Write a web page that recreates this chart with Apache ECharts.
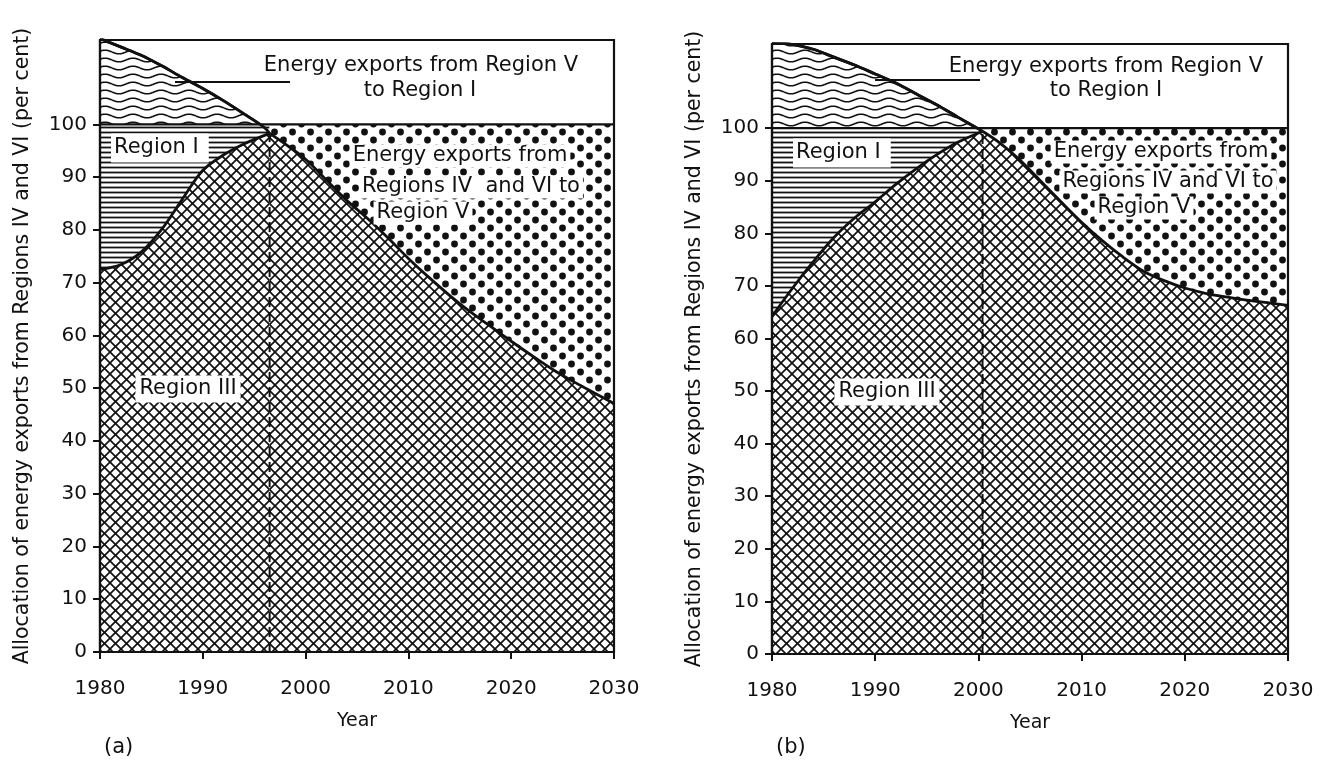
<!DOCTYPE html>
<html><head><meta charset="utf-8">
<script src="https://cdn.jsdelivr.net/npm/echarts@6/dist/echarts.min.js"></script>
<style>html,body{margin:0;padding:0;background:#fff}#c{width:1321px;height:766px}</style>
</head><body><div id="c"></div>
<script>
// ---------------- data ----------------
const yTicks = [0,10,20,30,40,50,60,70,80,90,100];
const xTicks = [1980,1990,2000,2010,2020,2030];

// Panel (a)
const aSplitYear = 1996.5;
const aTopYears = [1980,1982,1984,1986,1988,1990,1992,1994,1996,1996.5];
const aTopVals  = [116.3,114.7,113.1,111.1,108.9,106.8,104.5,102.0,99.4,98.3];
const aRiseYears = [1980,1982,1984,1986,1988,1990,1992,1994,1996.5];
const aRiseVals  = [72.5,73.4,75.8,80.1,85.8,91.3,94.2,96.3,98.3];
const aFallYears = [1996.5,1998,2000,2002,2004,2006,2008,2010,2012,2014,2016,2018,2020,2022,2024,2026,2028,2030];
const aFallVals  = [98.3,96.3,93.4,89.5,85.6,82.2,78.5,74.6,71.0,67.6,64.5,61.7,58.9,56.2,53.6,51.3,49.2,47.1];

// Panel (b)
const bSplitYear = 2000.4;
const bTopYears = [1980,1982,1984,1986,1988,1990,1992,1994,1996,1998,2000.4];
const bTopVals  = [116.4,115.9,115.0,113.5,112.0,110.3,108.6,106.5,104.4,102.1,99.4];
const bRiseYears = [1980,1982,1984,1986,1988,1990,1992,1994,1996,1998,2000.4];
const bRiseVals  = [64.2,69.6,74.6,79.2,82.9,86.0,89.3,92.3,95.0,97.3,99.4];
const bFallYears = [2000.4,2002,2004,2006,2008,2010,2012,2014,2016,2018,2020,2022,2024,2026,2028,2030];
const bFallVals  = [99.4,97.3,94.0,90.0,86.0,82.1,78.6,75.5,72.8,71.0,69.6,68.6,67.9,67.3,66.8,66.3];

const FULL_LINE = 100;
const yTitle = 'Allocation of energy exports from Regions IV and VI (per cent)';

// ---------------- patterns ----------------
const INK = '#111';
const FONT = '"DejaVu Sans", "Liberation Sans", sans-serif';
function mk(w, h, draw) {
  const c = document.createElement('canvas'); c.width = w; c.height = h;
  const g = c.getContext('2d'); g.fillStyle = '#fff'; g.fillRect(0, 0, w, h);
  g.strokeStyle = INK; g.fillStyle = INK; draw(g, w, h); return c;
}
const crossPat = mk(11, 11, (g, s) => {
  g.lineWidth = 1.7;
  for (const dx of [-s, 0, s]) {
    g.beginPath(); g.moveTo(dx - 1, -1); g.lineTo(dx + s + 1, s + 1); g.stroke();
    g.beginPath(); g.moveTo(dx + s + 1, -1); g.lineTo(dx - 1, s + 1); g.stroke();
  }
});
const hPat = mk(8, 5, g => { g.lineWidth = 1.8; g.beginPath(); g.moveTo(0, 2.5); g.lineTo(8, 2.5); g.stroke(); });
const wavePat = mk(28, 8, (g, w) => {
  g.lineWidth = 1.6; g.beginPath();
  for (let x = 0; x <= w; x += 0.5) { const y = 4 + 1.8 * Math.sin(2 * Math.PI * x / w); x ? g.lineTo(x, y) : g.moveTo(x, y); }
  g.stroke();
});
const dotPat = mk(18, 16, g => {
  for (const [cx, cy] of [[4.5, 4], [13.5, 12]]) { g.beginPath(); g.arc(cx, cy, 3.4, 0, Math.PI * 2); g.fill(); }
});
const pat = c => ({ image: c, repeat: 'repeat' });

// ---------------- series builder ----------------
const zip = (xs, ys) => xs.map((x, i) => [x, ys[i]]);
function panel(idx, d) {
  const common = { type: 'line', xAxisIndex: idx, yAxisIndex: idx, symbol: 'none', silent: true, animation: false };
  const riseEnd = d.riseVals[d.riseVals.length - 1];
  const curve = { color: INK, width: 2.8 };
  return [
    Object.assign({}, common, { data: zip(d.topYears, d.topVals), smooth: 0.3, lineStyle: curve, areaStyle: { color: pat(wavePat), opacity: 1 }, z: 2 }),
    Object.assign({}, common, { data: [[1980, FULL_LINE], [d.split, FULL_LINE]], lineStyle: { width: 0, opacity: 0 }, areaStyle: { color: pat(hPat), opacity: 1 }, z: 3 }),
    Object.assign({}, common, { data: [[d.split, FULL_LINE], [2030, FULL_LINE]], lineStyle: { width: 0, opacity: 0 }, areaStyle: { color: pat(dotPat), opacity: 1 }, z: 3 }),
    Object.assign({}, common, { data: zip(d.riseYears, d.riseVals), smooth: 0.3, lineStyle: curve, areaStyle: { color: pat(crossPat), opacity: 1 }, z: 4 }),
    Object.assign({}, common, { data: zip(d.fallYears, d.fallVals), smooth: 0.3, lineStyle: curve, areaStyle: { color: pat(crossPat), opacity: 1 }, z: 4 }),
    Object.assign({}, common, { data: zip(d.topYears, d.topVals), smooth: 0.3, lineStyle: curve, z: 6 }),
    Object.assign({}, common, { data: [[1980, FULL_LINE], [2030, FULL_LINE]], lineStyle: { color: INK, width: 2.4 }, z: 6 }),
    Object.assign({}, common, { data: [[d.split, 0], [d.split, riseEnd]], lineStyle: { color: INK, width: 2, type: [10, 5] }, z: 6 })
  ];
}
function xAxis(idx) {
  return { gridIndex: idx, type: 'value', min: 1980, max: 2030, interval: 10,
    axisLine: { show: true, lineStyle: { color: INK, width: 2.2 } },
    axisTick: { show: true, length: 7, lineStyle: { color: INK, width: 2 } },
    axisLabel: { margin: 27, fontSize: 20, color: INK, fontFamily: FONT, formatter: v => String(v) },
    splitLine: { show: false },
    name: 'Year', nameLocation: 'middle', nameGap: 60,
    nameTextStyle: { fontSize: 19, color: INK, fontFamily: FONT }, z: 10 };
}
function yAxis(idx) {
  return { gridIndex: idx, type: 'value', min: 0, max: 116, interval: 10,
    axisLine: { show: true, lineStyle: { color: INK, width: 2.2 } },
    axisTick: { show: true, length: 7, customValues: yTicks, lineStyle: { color: INK, width: 2 } },
    axisLabel: { customValues: yTicks, margin: 13, fontSize: 20, color: INK, fontFamily: FONT,
      formatter: v => (v <= 100 ? String(v) : '') },
    splitLine: { show: false },
    name: yTitle, nameLocation: 'middle', nameRotate: 90, nameGap: 67,
    nameTextStyle: { fontSize: 20.5, color: INK, fontFamily: FONT }, z: 10 };
}
function txt(x, y, text, align, bg) {
  const s = { text, x: 0, y: 0, font: '21px ' + FONT, fill: INK, align: align || 'center', verticalAlign: 'middle',
    textAlign: align || 'center', textVerticalAlign: 'middle' };
  if (bg) { s.backgroundColor = '#fff'; s.padding = bg; }
  return { type: 'text', x, y, style: s, z: 100 };
}
function line(x1, y1, x2, y2) {
  return { type: 'line', shape: { x1, y1, x2, y2 }, style: { stroke: INK, lineWidth: 2 }, z: 100 };
}

const chart = echarts.init(document.getElementById('c'), null, { renderer: 'canvas' });
chart.setOption({
  backgroundColor: '#fff',
  animation: false,
  grid: [
    { left: 100, top: 40, width: 514, height: 612, show: true, borderColor: INK, borderWidth: 2.2, backgroundColor: 'transparent', z: 10 },
    { left: 772, top: 44, width: 516, height: 610, show: true, borderColor: INK, borderWidth: 2.2, backgroundColor: 'transparent', z: 10 }
  ],
  xAxis: [xAxis(0), xAxis(1)],
  yAxis: [yAxis(0), yAxis(1)],
  series: [
    ...panel(0, { split: aSplitYear, topYears: aTopYears, topVals: aTopVals, riseYears: aRiseYears, riseVals: aRiseVals, fallYears: aFallYears, fallVals: aFallVals }),
    ...panel(1, { split: bSplitYear, topYears: bTopYears, topVals: bTopVals, riseYears: bRiseYears, riseVals: bRiseVals, fallYears: bFallYears, fallVals: bFallVals })
  ],
  graphic: [
    // panel (a)
    txt(421, 66, 'Energy exports from Region V'),
    txt(420, 91, 'to Region I'),
    line(175, 82, 290, 82),
    txt(111, 148, 'Region I', 'left', [4, 10, 4, 3]),
    txt(460, 156, 'Energy exports from', 'center', [1, 3]),
    txt(471, 187, 'Regions IV  and VI to', 'center', [1, 3]),
    txt(423, 213, 'Region V', 'center', [1, 3]),
    txt(188, 389, 'Region III', 'center', [3, 4]),
    txt(104, 748, '(a)', 'left'),
    // panel (b)
    txt(1106, 67, 'Energy exports from Region V'),
    txt(1106, 91, 'to Region I'),
    line(875, 80, 980, 80),
    txt(793, 153, 'Region I', 'left', [4, 10, 4, 3]),
    txt(1161, 152, 'Energy exports from', 'center', [1, 3]),
    txt(1168, 182, 'Regions IV and VI to', 'center', [1, 3]),
    txt(1144, 208, 'Region V', 'center', [1, 3]),
    txt(887, 392, 'Region III', 'center', [3, 4]),
    txt(776, 748, '(b)', 'left')
  ]
});
</script>
</body></html>
